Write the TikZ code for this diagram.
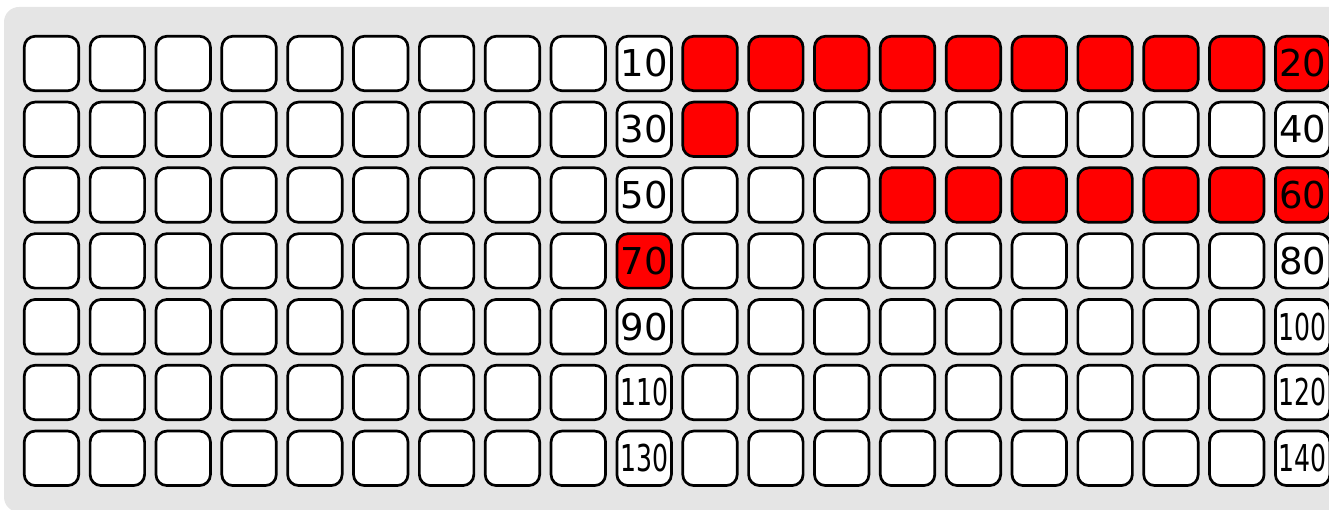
\documentclass[tikz,border=0pt]{standalone}
\usepackage{fontspec}
\setmainfont{DejaVu Sans}
\definecolor{bggray}{HTML}{E5E5E5}
\begin{document}
\begin{tikzpicture}[x=1pt,y=-1pt,
  cell/.style={draw=black,line width=2.7pt,fill=white,rounded corners=11pt,
    minimum width=54.5pt,minimum height=54.5pt,inner sep=0pt,
    font=\fontsize{37}{37}\selectfont}]
\useasboundingbox (0,0) rectangle (1329,510);
\fill[bggray,rounded corners=15pt] (4,7) rectangle (1370,512);
\foreach \r in {1,...,7}{
  \foreach \c in {1,...,20}{
    \pgfmathtruncatemacro{\lab}{\c==10 ? 20*\r-10 : (\c==20 ? 20*\r : 0)}
    \pgfmathtruncatemacro{\ishot}{((\r==1) && (\c>10)) || ((\r==2) && (\c==11)) || ((\r==3) && (\c>13)) || ((\r==4) && (\c==10))}
    \ifnum\ishot=1 \def\fc{red}\else\def\fc{white}\fi
    \ifnum\lab=0 \def\celltxt{}\else\ifnum\lab<100 \edef\celltxt{\lab}\else\edef\celltxt{\noexpand\scalebox{0.68}[1]{\lab}}\fi\fi
    \node[cell,fill=\fc] (c-\r-\c) at ({51.5+65.85*(\c-1)},{63.5+65.8*(\r-1)}) {\celltxt};
  }
}
\end{tikzpicture}
\end{document}
